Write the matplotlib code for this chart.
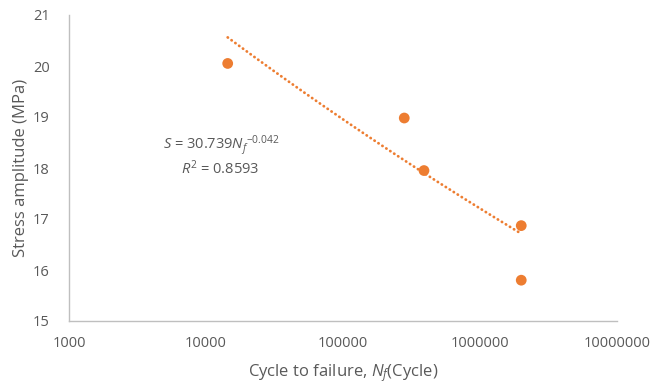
import numpy as np
import matplotlib
matplotlib.use("Agg")
import matplotlib.pyplot as plt

# Fatigue test results
cycles = [14400, 280000, 390000, 2000000, 2000000]
stress = [20.05, 18.98, 17.95, 16.87, 15.80]

# Power-law fit S = a * Nf^b
fit_a = 30.739
fit_b = -0.042
r_squared = 0.8593

x_ticks = [1000, 10000, 100000, 1000000, 10000000]
x_ticklabels = ["1000", "10000", "100000", "1000000", "10000000"]
y_ticks = [15, 16, 17, 18, 19, 20, 21]

orange = "#ED7D31"
grey_text = "#595959"
axis_grey = "#BFBFBF"

plt.rcParams["font.family"] = ["Open Sans", "DejaVu Sans"]
plt.rcParams["mathtext.fontset"] = "custom"
plt.rcParams["mathtext.rm"] = "Open Sans"
plt.rcParams["mathtext.it"] = "Open Sans:italic"

W, H = 653, 386
fig = plt.figure(figsize=(W / 100, H / 100), dpi=100)
ax = fig.add_axes([69 / W, 1 - 321 / H, (617 - 69) / W, (321 - 15) / H])

ax.set_xscale("log")
ax.set_xlim(1000, 10000000)
ax.set_ylim(15, 21)

# Trendline over the data range
xf = np.logspace(np.log10(min(cycles)), np.log10(max(cycles)), 200)
ax.plot(xf, fit_a * xf ** fit_b, color=orange, lw=2.0,
        linestyle=(0, (0.1, 1.6)), dash_capstyle="round", zorder=2)

ax.scatter(cycles, stress, s=60, color=orange, edgecolor="none", zorder=3)

ax.set_xticks(x_ticks)
ax.set_xticklabels(x_ticklabels)
ax.xaxis.set_minor_locator(matplotlib.ticker.NullLocator())
ax.set_yticks(y_ticks)

for side in ("top", "right"):
    ax.spines[side].set_visible(False)
for side in ("left", "bottom"):
    ax.spines[side].set_color(axis_grey)
    ax.spines[side].set_linewidth(1.0)

ax.tick_params(axis="both", length=0, labelsize=10.5, labelcolor=grey_text)
ax.tick_params(axis="x", pad=11)
ax.tick_params(axis="y", pad=14)

ax.set_xlabel(r"Cycle to failure, $\mathit{N_f}$(Cycle)", fontsize=12,
              color=grey_text, labelpad=8)
ax.set_ylabel("Stress amplitude (MPa)", fontsize=12, color=grey_text,
              labelpad=3)

fig.text(221 / W, 1 - 146 / H,
         r"$\mathit{S}$ = 30.739$\mathit{N_f}^{-0.042}$",
         ha="center", va="center", fontsize=10.5, color=grey_text)
fig.text(220 / W, 1 - 169 / H, r"$\mathit{R}^{2}$ = 0.8593",
         ha="center", va="center", fontsize=10.5, color=grey_text)

fig.savefig("out.png", dpi=100, facecolor="white")
